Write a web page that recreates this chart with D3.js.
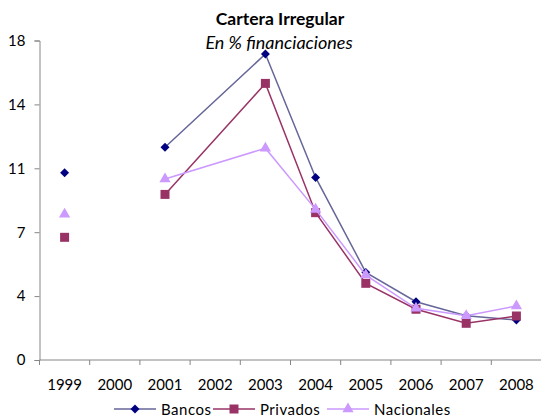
<!DOCTYPE html>
<html><head><meta charset="utf-8">
<script src="https://cdn.jsdelivr.net/npm/d3@7"></script>
<style>body{margin:0;background:#fff}svg{display:block;font-family:Lato,"Open Sans",sans-serif}</style>
</head><body><svg id="c" width="541" height="420"></svg>
<script>
const years = ["1999","2000","2001","2002","2003","2004","2005","2006","2007","2008"];
const bancos = [10.26, null, 11.65, null, 16.76, 10.0, 4.8, 3.19, 2.43, 2.19];
const privados = [6.72, null, 9.07, null, 15.15, 8.07, 4.2, 2.78, 2.01, 2.41];
const nacionales = [7.98, null, 9.91, null, 11.6, 8.25, 4.65, 2.83, 2.43, 2.96];
const yTicks = [0, 3.5, 7, 10.5, 14, 17.5];
const connectFrom = "2001"; // gaps connected from 2001 onward

const series = [
  {name:"Bancos", values:bancos, line:"#666699", marker:"#000080", sym:d3.symbolSquare, size:40, rot:45},
  {name:"Privados", values:privados, line:"#993366", marker:"#993366", sym:d3.symbolSquare, size:81, rot:0},
  {name:"Nacionales", values:nacionales, line:"#CC99FF", marker:"#CC99FF", sym:d3.symbolTriangle, size:55, rot:0}
];

const svg = d3.select("#c");
const L = 39.5, R = 541.5, T = 40.5, B = 360;
const x = d3.scaleBand().domain(years).range([L, R]);
const y = d3.scaleLinear().domain([0, 17.5]).range([B, T]);

svg.append("text").attr("x", 280).attr("y", 25).attr("text-anchor","middle")
  .attr("font-weight","bold").attr("font-size",17.5).text("Cartera Irregular");
svg.append("text").attr("x", 279).attr("y", 49).attr("text-anchor","middle")
  .attr("font-style","italic").attr("font-size",18).text("En % financiaciones");

const yAx = svg.append("g").attr("transform",`translate(${L},0)`)
  .call(d3.axisLeft(y).tickValues(yTicks).tickSizeOuter(0).tickSize(5).tickPadding(9).tickFormat(d=>d3.format(".0f")(Math.round(d+0.0001))));
const xAx = svg.append("g").attr("transform",`translate(0,${B})`)
  .call(d3.axisBottom(x).tickSize(0).tickPadding(19));
xAx.selectAll(".domain").remove();
svg.append("g").selectAll("line").data(d3.range(years.length+1)).join("line")
  .attr("x1", i=>L + i*x.step()).attr("x2", i=>L + i*x.step())
  .attr("y1", B).attr("y2", B+5).attr("stroke","#868686");
svg.append("line").attr("x1",L).attr("x2",R).attr("y1",B).attr("y2",B).attr("stroke","#868686");
[yAx, xAx].forEach(g=>{
  g.selectAll(".domain").attr("stroke","#868686");
  g.selectAll(".tick line").attr("stroke","#868686");
  g.selectAll("text").attr("font-size",15).attr("fill","#000").attr("font-family","Lato,'Open Sans',sans-serif");
});

const cx = yr => x(yr) + x.bandwidth()/2;
const line = d3.line().x(d=>cx(d.yr)).y(d=>y(d.v));
const startIdx = years.indexOf(connectFrom);

series.forEach(s=>{
  const pts = years.map((yr,i)=>({yr, v:s.values[i], i})).filter(d=>d.v!=null);
  const connected = pts.filter(d=>d.i>=startIdx);
  svg.append("path").datum(connected).attr("d", line).attr("fill","none")
    .attr("stroke", s.line).attr("stroke-width", 1.5);
  svg.append("g").selectAll("path").data(pts).join("path")
    .attr("d", d3.symbol().type(s.sym).size(s.size))
    .attr("transform", d=>`translate(${cx(d.yr)},${y(d.v)}) rotate(${s.rot})`)
    .attr("fill", s.marker);
});

// legend
const legX = [114, 213, 327], legY = 409;
series.forEach((s,i)=>{
  const g = svg.append("g").attr("transform",`translate(${legX[i]},${legY})`);
  g.append("line").attr("x1",0).attr("x2",42).attr("stroke",s.line).attr("stroke-width",1.5);
  g.append("path").attr("d", d3.symbol().type(s.sym).size(s.size)()).attr("transform",`translate(21,0) rotate(${s.rot})`).attr("fill",s.marker);
  g.append("text").attr("x",47).attr("y",6).attr("font-size",15).attr("letter-spacing",0.5).text(s.name);
});
</script></body></html>
